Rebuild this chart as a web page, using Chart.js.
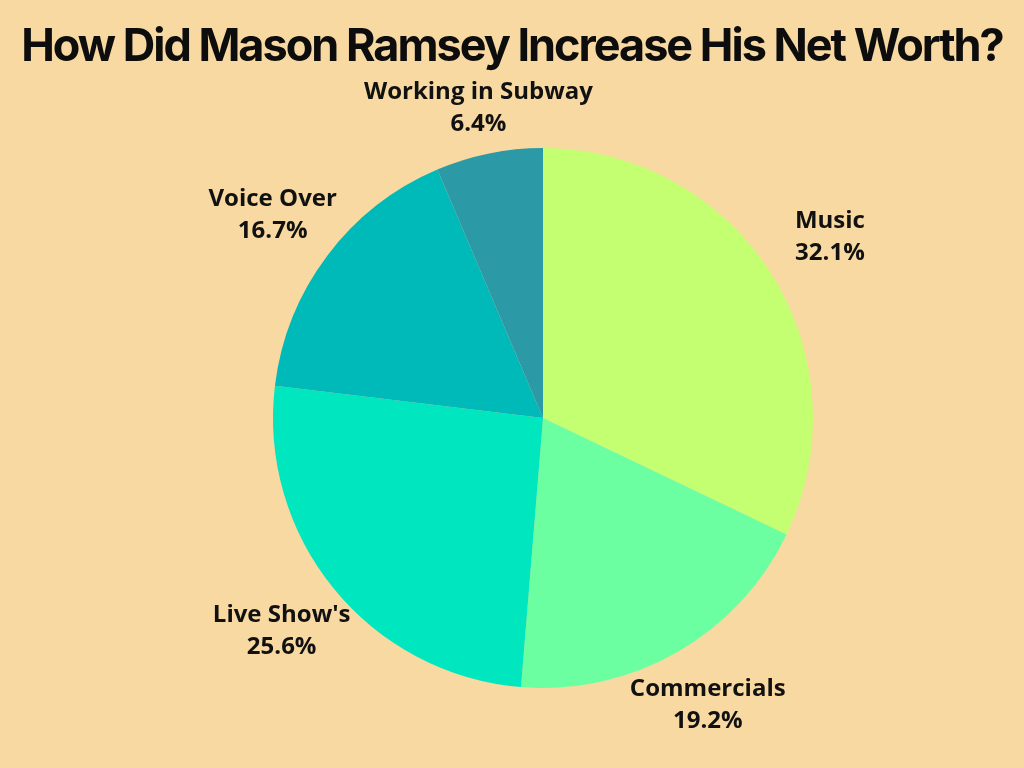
<!DOCTYPE html>
<html>
<head>
<meta charset="utf-8">
<script src="https://cdn.jsdelivr.net/npm/chart.js@4/dist/chart.umd.min.js"></script>
<style>
  html, body { margin: 0; padding: 0; background: #f8d9a1; }
  #wrap { width: 1024px; height: 768px; position: relative; }
</style>
</head>
<body>
<div id="wrap"><canvas id="pie-chart"></canvas></div>
<script>
// chart data
var title = "How Did Mason Ramsey Increase His Net Worth?";
var labels = ["Music", "Commercials", "Live Show's", "Voice Over", "Working in Subway"];
var values = [32.1, 19.2, 25.6, 16.7, 6.4];
var colors = ["#c3ff70", "#6cffa1", "#00e6bf", "#00b9b9", "#2b9aa6"];

// title drawn by hand so it can be squeezed like the original
var titlePlugin = {
  id: 'bigTitle',
  afterDraw: function(chart) {
    var ctx = chart.ctx;
    ctx.save();
    ctx.font = "bold 45px Inter";
    ctx.letterSpacing = "-2px";
    ctx.fillStyle = "#0d0d0d";
    ctx.textAlign = "center";
    ctx.textBaseline = "middle";
    ctx.fillText(title, chart.width / 2, 47);
    ctx.restore();
  }
};

// outside labels: name on first line, percent on second
// labels to the sides sit a bit further out, and none may climb into the title
var outsideLabels = {
  id: 'outsideLabels',
  afterDatasetsDraw: function(chart) {
    var ctx = chart.ctx;
    var meta = chart.getDatasetMeta(0);
    var lineGap = 32;
    var minY = 92 + lineGap / 2;
    ctx.save();
    ctx.font = "bold 24px 'Open Sans'";
    ctx.fillStyle = "#111111";
    ctx.textAlign = "center";
    ctx.textBaseline = "middle";
    meta.data.forEach(function(arc, i) {
      var p = arc.getProps(['x', 'y', 'startAngle', 'endAngle', 'outerRadius'], true);
      var mid = (p.startAngle + p.endAngle) / 2;
      var d = p.outerRadius * (1.18 + 0.09 * Math.abs(Math.cos(mid)));
      var x = p.x + Math.cos(mid) * d;
      var y = Math.max(minY, p.y + Math.sin(mid) * d);
      ctx.fillText(labels[i], x, y - lineGap / 2);
      ctx.fillText(values[i].toFixed(1) + "%", x, y + lineGap / 2);
    });
    ctx.restore();
  }
};

new Chart(document.getElementById("pie-chart"), {
  type: 'pie',
  data: {
    labels: labels,
    datasets: [{
      data: values,
      backgroundColor: colors,
      borderWidth: 0
    }]
  },
  options: {
    responsive: true,
    maintainAspectRatio: false,
    animation: false,
    layout: {
      padding: { left: 273, right: 211, top: 148, bottom: 80 }
    },
    plugins: {
      legend: { display: false },
      tooltip: { enabled: false },
      title: { display: false }
    }
  },
  plugins: [titlePlugin, outsideLabels]
});
</script>
</body>
</html>
